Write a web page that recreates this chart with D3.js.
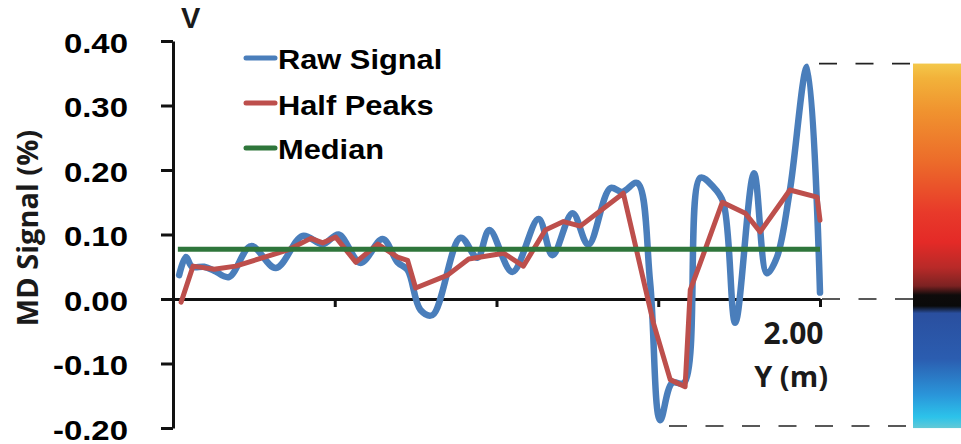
<!DOCTYPE html>
<html>
<head>
<meta charset="utf-8">
<script src="https://cdn.jsdelivr.net/npm/d3@7/dist/d3.min.js"></script>
<style>
  html, body { margin: 0; padding: 0; background: #fff; }
  svg { display: block; }
</style>
</head>
<body>
<svg id="chart" width="961" height="444"></svg>
<script>
// Distance along the profile (m) and MD signal (%) of the raw trace
const rawX = [0.019, 0.040, 0.059, 0.096, 0.127, 0.173, 0.241, 0.318, 0.401, 0.463, 0.512, 0.580,
              0.648, 0.694, 0.725, 0.765, 0.802, 0.889, 0.941, 0.978, 1.049, 1.130, 1.173, 1.235,
              1.284, 1.352, 1.389, 1.435, 1.475, 1.506, 1.543, 1.580, 1.630, 1.670, 1.701, 1.738,
              1.796, 1.836, 1.867, 1.907, 1.960, 2.000];
const rawV = [0.037, 0.065, 0.050, 0.050, 0.044, 0.034, 0.082, 0.048, 0.098, 0.085, 0.100, 0.056,
              0.093, 0.057, 0.045, -0.017, -0.025, 0.095, 0.064, 0.107, 0.042, 0.124, 0.068, 0.133,
              0.084, 0.172, 0.166, 0.180, 0.025, -0.188, -0.130, -0.130, 0.188, 0.174, 0.150, -0.037,
              0.195, 0.040, 0.065, 0.169, 0.360, 0.010];

// Half-peak envelope
const halfX = [0.025, 0.062, 0.127, 0.194, 0.355, 0.426, 0.463, 0.503, 0.565, 0.633, 0.694, 0.725,
               0.750, 0.849, 0.914, 1.022, 1.083, 1.151, 1.207, 1.259, 1.392, 1.485, 1.537, 1.583,
               1.599, 1.630, 1.698, 1.769, 1.815, 1.907, 1.991, 2.000];
const halfV = [-0.005, 0.051, 0.046, 0.051, 0.076, 0.094, 0.087, 0.096, 0.057, 0.085, 0.065, 0.060,
               0.017, 0.037, 0.062, 0.071, 0.051, 0.107, 0.120, 0.113, 0.164, -0.037, -0.125, -0.136,
               0.014, 0.056, 0.150, 0.133, 0.104, 0.169, 0.158, 0.122];

// Median level over the whole profile
const medianX = [0.015, 2.0];
const medianValue = 0.077;

// Axis ticks
const yTicks = [-0.2, -0.1, 0.0, 0.1, 0.2, 0.3, 0.4];
const xTicks = [0, 0.5, 1.0, 1.5, 2.0];
const xLabelled = [2.0];

// Colour-bar range and colour stops (top to bottom)
const barMax = 0.365;
const barMin = -0.197;
const barStops = [
  [0.00, "#f4c84a"], [0.04, "#f2b23a"], [0.13, "#f0932f"], [0.27, "#ec6b2a"],
  [0.41, "#e8392a"], [0.49, "#e42a27"], [0.56, "#b82a28"], [0.61, "#7c2222"],
  [0.635, "#0e0b0b"], [0.665, "#0a0a0a"], [0.685, "#2a4f9f"], [0.81, "#2b5db0"],
  [0.91, "#2a96da"], [0.97, "#2cc3ea"], [1.00, "#62c9d6"]
];

const series = [
  { name: "Raw Signal", color: "#4a7ebb" },
  { name: "Half Peaks", color: "#bd4f4c" },
  { name: "Median", color: "#2f763b" }
];

const svg = d3.select("#chart");

const x = d3.scaleLinear().domain([0, 2]).range([173, 820]);
const y = d3.scaleLinear().domain([-0.2, 0.4]).range([428, 41]);

const fmt = v => d3.format(".2f")(v).replace("\u2212", "-");
const tickFont = "'Liberation Sans', Arial, sans-serif";
const titleFont = "'Open Sans', 'Noto Sans', sans-serif";

// Colour bar with dashed leaders
const defs = svg.append("defs");
const grad = defs.append("linearGradient")
  .attr("id", "bar").attr("x1", 0).attr("y1", 0).attr("x2", 0).attr("y2", 1);
barStops.forEach(([o, c]) => grad.append("stop").attr("offset", o).attr("stop-color", c));

svg.append("rect")
  .attr("x", 913).attr("y", y(barMax))
  .attr("width", 60).attr("height", y(barMin) - y(barMax) + 2)
  .attr("fill", "url(#bar)");

const leaders = [
  { v: barMax, from: 818, to: 910 },
  { v: 0, from: 822, to: 913 },
  { v: barMin, from: 667, to: 906 }
];
svg.selectAll("line.leader").data(leaders).join("line")
  .attr("class", "leader")
  .attr("x1", d => d.to).attr("x2", d => d.from)
  .attr("y1", d => y(d.v)).attr("y2", d => y(d.v))
  .attr("stroke", "#222").attr("stroke-width", 1.6)
  .attr("stroke-dasharray", "18,18.5");

// Y axis
const yAxis = svg.append("g")
  .attr("transform", `translate(${x(0)},0)`)
  .call(d3.axisLeft(y).tickValues(yTicks).tickSize(12).tickSizeOuter(0).tickFormat(fmt));
yAxis.select(".domain").attr("stroke", "#111").attr("stroke-width", 3);
yAxis.selectAll(".tick line").attr("stroke", "#111").attr("stroke-width", 3);
yAxis.selectAll(".tick text")
  .attr("x", 0).attr("dy", "0.42em")
  .attr("transform", "translate(-45,0) scale(1.22,1)")
  .attr("fill", "#000")
  .style("font-family", tickFont).style("font-weight", "bold").style("font-size", "27px");

// X axis through zero
const xAxis = svg.append("g")
  .attr("transform", `translate(0,${y(0)})`)
  .call(d3.axisBottom(x).tickValues(xTicks).tickSize(8).tickSizeOuter(0)
    .tickFormat(v => xLabelled.includes(v) ? fmt(v) : ""));
xAxis.select(".domain").attr("stroke", "#111").attr("stroke-width", 3);
xAxis.selectAll(".tick line").attr("stroke", "#111").attr("stroke-width", 3);
xAxis.selectAll(".tick text")
  .attr("y", 45).attr("dy", 0).attr("x", 3)
  .attr("text-anchor", "end")
  .attr("fill", "#1a1a1a")
  .style("font-family", titleFont).style("font-weight", "700").style("font-size", "30px");

// Axis titles
svg.append("text")
  .attr("transform", "translate(38,228) rotate(-90)")
  .attr("text-anchor", "middle")
  .attr("fill", "#1a1a1a")
  .style("font-family", titleFont).style("font-weight", "700").style("font-size", "29px")
  .text("MD Signal (%)");

svg.append("text")
  .attr("x", 828).attr("y", 387)
  .attr("text-anchor", "end")
  .attr("fill", "#1a1a1a")
  .style("font-family", titleFont).style("font-weight", "700").style("font-size", "29px")
  .text("Y (m)");

svg.append("text")
  .attr("x", 181).attr("y", 28)
  .attr("fill", "#1a1a1a")
  .style("font-family", tickFont).style("font-weight", "bold").style("font-size", "29px")
  .text("V");

// Series: raw trace underneath, envelope above it, median on top
const rawData = rawX.map((d, i) => [d, rawV[i]]);
const halfData = halfX.map((d, i) => [d, halfV[i]]);
const medianData = medianX.map(d => [d, medianValue]);

const smooth = d3.line().x(d => x(d[0])).y(d => y(d[1])).curve(d3.curveCatmullRom.alpha(0.5));
const straight = d3.line().x(d => x(d[0])).y(d => y(d[1]));

svg.append("path").attr("d", smooth(rawData))
  .attr("fill", "none").attr("stroke", series[0].color).attr("stroke-width", 6.5)
  .attr("stroke-linejoin", "round").attr("stroke-linecap", "round");

svg.append("path").attr("d", straight(halfData))
  .attr("fill", "none").attr("stroke", series[1].color).attr("stroke-width", 5)
  .attr("stroke-linejoin", "round").attr("stroke-linecap", "round");

svg.append("path").attr("d", straight(medianData))
  .attr("fill", "none").attr("stroke", series[2].color).attr("stroke-width", 5);

// Legend
const legendRows = [{ ly: 58, ty: 69 }, { ly: 103, ty: 115 }, { ly: 148, ty: 159 }];
const legend = svg.append("g");
series.forEach((s, i) => {
  legend.append("line")
    .attr("x1", 246).attr("x2", 275)
    .attr("y1", legendRows[i].ly).attr("y2", legendRows[i].ly)
    .attr("stroke", s.color).attr("stroke-width", 5).attr("stroke-linecap", "round");
  legend.append("text")
    .attr("transform", `translate(278,${legendRows[i].ty}) scale(1.1,1)`)
    .attr("fill", "#000")
    .style("font-family", tickFont).style("font-weight", "bold").style("font-size", "28px")
    .text(s.name);
});
</script>
</body>
</html>
